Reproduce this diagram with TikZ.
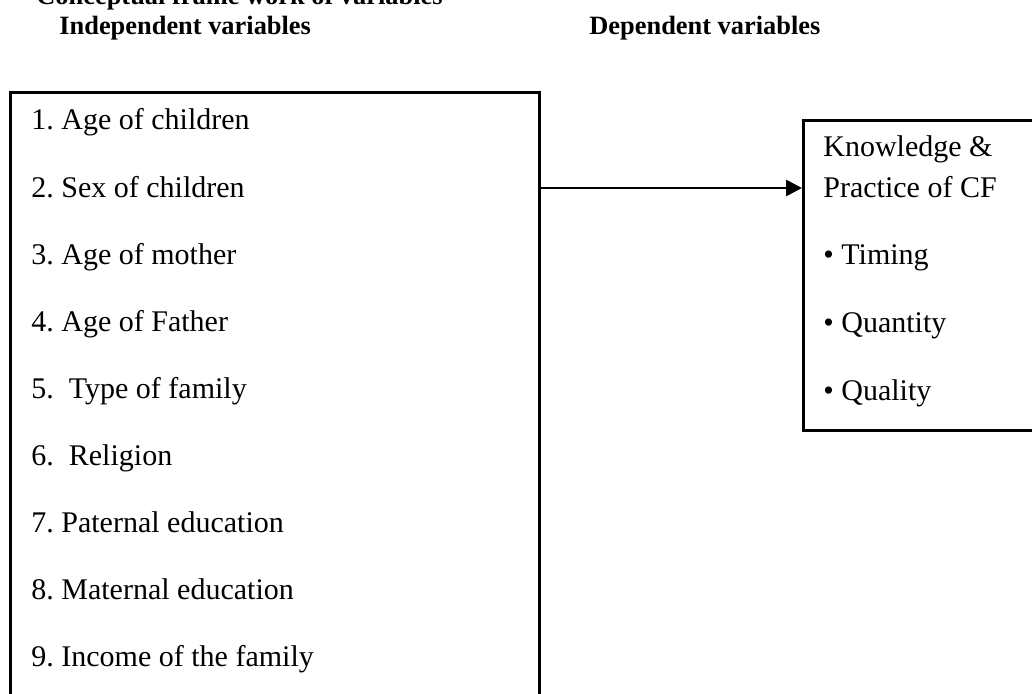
\documentclass[tikz,border=0pt]{standalone}
\usepackage{fontspec}
\setmainfont{Liberation Serif}
\usepackage{tikz}
\usetikzlibrary{arrows.meta}
\frenchspacing

\tikzset{
	varbox/.style={draw, line width=1.3pt, rectangle, inner sep=0pt, anchor=north west},
	vartext/.style={anchor=base west, inner sep=0pt, font=\fontsize{15}{18}\selectfont},
	heading/.style={anchor=base west, inner sep=0pt, font=\fontsize{13.2}{16}\selectfont\bfseries},
	link/.style={line width=1.4pt, -{Triangle[length=8pt,width=8pt]}}
}

\begin{document}
\begin{tikzpicture}[x=0.5pt,y=-0.5pt]
\useasboundingbox (0,0) rectangle (1032,694);
\clip (0,0) rectangle (1032,694);

% headings
\node[heading] (title) at (36,5) {Conceptual frame work of variables};
\node[heading] (indephead) at (59,35) {Independent variables};
\node[heading] (dephead) at (589,35) {Dependent variables};

% boxes
\node[varbox, minimum width=264.5pt, minimum height=315pt] (indep) at (9,91) {};
\node[varbox, minimum width=122pt, minimum height=155pt] (dep) at (802,119) {};

% independent variables
\foreach \txt [count=\i] in {1. Age of children, 2. Sex of children, 3. Age of mother, 4. Age of Father, 5.~ Type of family, 6.~ Religion, 7. Paternal education, 8. Maternal education, 9. Income of the family}
	\node[vartext] (item\i) at (31,{130+67.1*(\i-1)}) {\txt};

% dependent variables
\node[vartext] (know) at (823,157) {Knowledge \&};
\node[vartext] (pcf) at (823,198) {Practice of CF};
\foreach \txt [count=\i] in {Timing, Quantity, Quality}
	\node[vartext] (dv\i) at (823,{265+68*(\i-1)}) {\textbullet\ \txt};

\coordinate (arr) at (0,188);
\draw[link] (indep.east |- arr) -- (dep.west |- arr);
\end{tikzpicture}
\end{document}
